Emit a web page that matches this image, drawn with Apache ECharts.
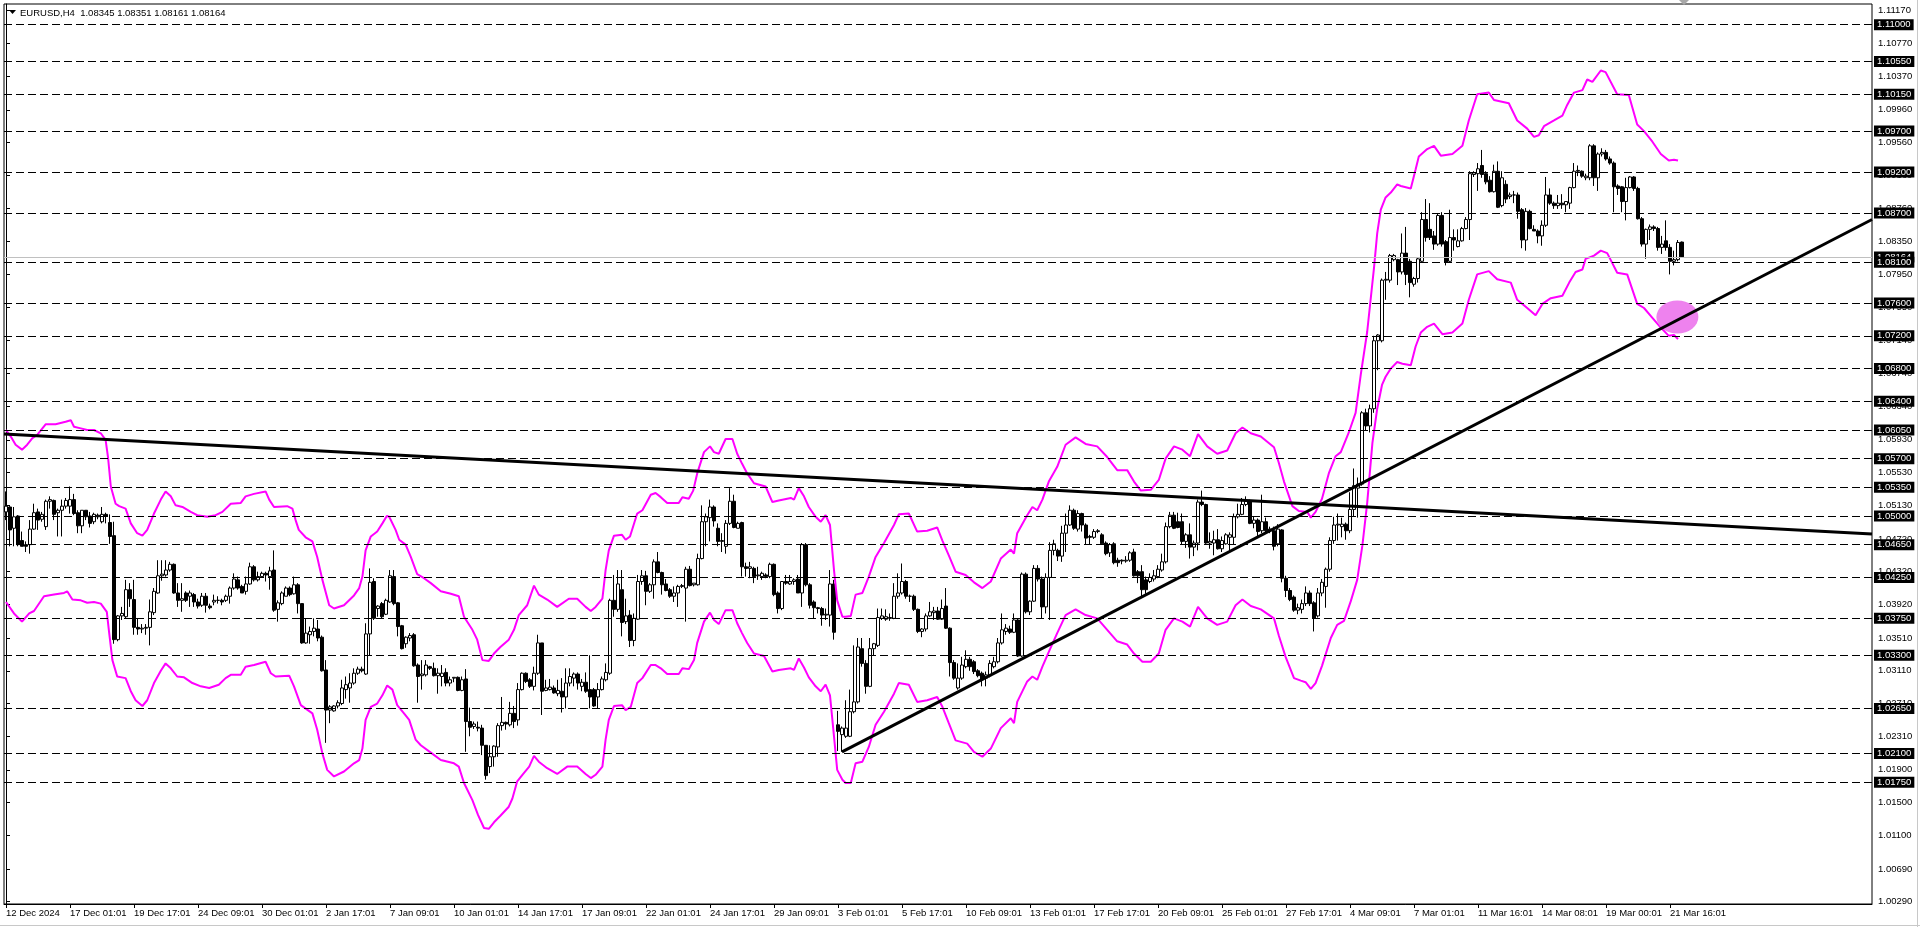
<!DOCTYPE html>
<html><head><meta charset="utf-8">
<script src="https://cdn.jsdelivr.net/npm/echarts@6/dist/echarts.min.js"></script>
<style>html,body{margin:0;padding:0;background:#fff;}#chart{width:1920px;height:927px;}</style>
</head><body><div id="chart"></div>
<script>
const symbolName = 'EURUSD,H4';
const dateLabels = ['12 Dec 2024','17 Dec 01:01','19 Dec 17:01','24 Dec 09:01','30 Dec 01:01','2 Jan 17:01','7 Jan 09:01','10 Jan 01:01','14 Jan 17:01','17 Jan 09:01','22 Jan 01:01','24 Jan 17:01','29 Jan 09:01','3 Feb 01:01','5 Feb 17:01','10 Feb 09:01','13 Feb 01:01','17 Feb 17:01','20 Feb 09:01','25 Feb 01:01','27 Feb 17:01','4 Mar 09:01','7 Mar 01:01','11 Mar 16:01','14 Mar 08:01','19 Mar 00:01','21 Mar 16:01'];
const labelStep = 16;
const priceTicks = [1.11170,1.10770,1.10370,1.09960,1.09560,1.09160,1.08760,1.08350,1.07950,1.07550,1.07140,1.06740,1.06340,1.05930,1.05530,1.05130,1.04720,1.04320,1.03920,1.03510,1.03110,1.02710,1.02310,1.01900,1.01500,1.01100,1.00690,1.00290];
const levelPrices = [1.11000,1.10550,1.10150,1.09700,1.09200,1.08700,1.08100,1.07600,1.07200,1.06800,1.06400,1.06050,1.05700,1.05350,1.05000,1.04650,1.04250,1.03750,1.03300,1.02650,1.02100,1.01750];
const bidPrice = 1.08164;

const opens = [
1.0505,1.0511,1.0485,1.0500,1.0470,1.0465,1.0465,1.0484,1.0505,1.0496,
1.0487,1.0518,1.0519,1.0504,1.0507,1.0512,1.0512,1.0520,1.0504,1.0488,
1.0507,1.0500,1.0493,1.0501,1.0493,1.0502,1.0492,1.0476,1.0349,1.0378,
1.0377,1.0410,1.0398,1.0364,1.0362,1.0363,1.0364,1.0382,1.0406,1.0427,
1.0428,1.0434,1.0441,1.0406,1.0397,1.0406,1.0402,1.0404,1.0395,1.0391,
1.0402,1.0390,1.0395,1.0397,1.0397,1.0397,1.0402,1.0412,1.0422,1.0414,
1.0408,1.0417,1.0438,1.0422,1.0426,1.0430,1.0426,1.0434,1.0386,1.0393,
1.0402,1.0412,1.0405,1.0416,1.0393,1.0345,1.0355,1.0359,1.0362,1.0352,
1.0312,1.0263,1.0262,1.0268,1.0271,1.0288,1.0290,1.0296,1.0308,1.0313,
1.0307,1.0356,1.0420,1.0387,1.0393,1.0380,1.0395,1.0426,1.0394,1.0366,
1.0344,1.0351,1.0355,1.0318,1.0305,1.0306,1.0316,1.0314,1.0305,1.0304,
1.0309,1.0296,1.0302,1.0303,1.0287,1.0301,1.0249,1.0243,1.0242,1.0241,
1.0220,1.0194,1.0206,1.0218,1.0244,1.0248,1.0245,1.0259,1.0251,1.0288,
1.0308,1.0300,1.0292,1.0308,1.0345,1.0287,1.0288,1.0290,1.0283,1.0286,
1.0279,1.0296,1.0302,1.0307,1.0292,1.0297,1.0288,1.0288,1.0279,1.0288,
1.0300,1.0308,1.0397,1.0386,1.0410,1.0371,1.0379,1.0348,1.0374,1.0420,
1.0427,1.0408,1.0416,1.0444,1.0431,1.0417,1.0410,1.0402,1.0406,1.0414,
1.0412,1.0435,1.0416,1.0416,1.0448,1.0493,1.0498,1.0511,1.0485,1.0469,
1.0463,1.0491,1.0518,1.0485,1.0492,1.0438,1.0436,1.0436,1.0427,1.0426,
1.0428,1.0426,1.0441,1.0406,1.0387,1.0420,1.0417,1.0420,1.0423,1.0406,
1.0465,1.0416,1.0395,1.0388,1.0387,1.0379,1.0379,1.0417,1.0245,1.0233,
1.0231,1.0231,1.0261,1.0273,1.0338,1.0320,1.0292,1.0338,1.0342,1.0375,
1.0374,1.0376,1.0375,1.0402,1.0406,1.0420,1.0402,1.0402,1.0386,1.0359,
1.0362,1.0378,1.0382,1.0384,1.0374,1.0390,1.0363,1.0321,1.0290,1.0302,
1.0316,1.0325,1.0322,1.0311,1.0308,1.0302,1.0305,1.0316,1.0322,1.0345,
1.0359,1.0362,1.0358,1.0373,1.0329,1.0429,1.0383,1.0396,1.0436,1.0423,
1.0389,1.0425,1.0458,1.0458,1.0451,1.0479,1.0489,1.0507,1.0484,1.0503,
1.0489,1.0475,1.0474,1.0481,1.0477,1.0467,1.0455,1.0466,1.0446,1.0446,
1.0445,1.0446,1.0456,1.0432,1.0432,1.0422,1.0420,1.0423,1.0426,1.0434,
1.0444,1.0487,1.0501,1.0493,1.0493,1.0469,1.0477,1.0462,1.0467,1.0517,
1.0514,1.0467,1.0467,1.0471,1.0460,1.0466,1.0474,1.0474,1.0499,1.0502,
1.0514,1.0518,1.0491,1.0495,1.0482,1.0493,1.0482,1.0482,1.0466,1.0483,
1.0424,1.0409,1.0401,1.0385,1.0386,1.0393,1.0406,1.0394,1.0378,1.0406,
1.0414,1.0435,1.0470,1.0489,1.0487,1.0490,1.0482,1.0508,1.0534,1.0539,
1.0626,1.0610,1.0631,1.0714,1.0714,1.0788,1.0788,1.0813,1.0813,1.0798,
1.0821,1.0811,1.0783,1.0790,1.0811,1.0862,1.0850,1.0842,1.0832,1.0867,
1.0835,1.0811,1.0840,1.0829,1.0836,1.0851,1.0862,1.0917,1.0918,1.0928,
1.0918,1.0910,1.0896,1.0921,1.0879,1.0905,1.0890,1.0892,1.0892,1.0874,
1.0837,1.0872,1.0850,1.0848,1.0842,1.0855,1.0892,1.0882,1.0879,1.0882,
1.0880,1.0882,1.0901,1.0921,1.0921,1.0913,1.0913,1.0952,1.0913,1.0942,
1.0944,1.0936,1.0931,1.0903,1.0902,1.0884,1.0901,1.0914,1.0900,1.0863,
1.0832,1.0850,1.0853,1.0851,1.0828,1.0836,1.0828,1.0811,1.0813,1.08345];

const highs = [
1.0530,1.0512,1.0511,1.0501,1.0481,1.0469,1.0495,1.0515,1.0509,1.0505,
1.0520,1.0524,1.0520,1.0509,1.0520,1.0522,1.0536,1.0527,1.0507,1.0507,
1.0507,1.0505,1.0504,1.0503,1.0511,1.0504,1.0502,1.0493,1.0379,1.0389,
1.0422,1.0418,1.0422,1.0375,1.0368,1.0368,1.0398,1.0412,1.0446,1.0446,
1.0446,1.0444,1.0442,1.0418,1.0418,1.0408,1.0409,1.0406,1.0399,1.0406,
1.0406,1.0393,1.0404,1.0402,1.0399,1.0404,1.0414,1.0430,1.0426,1.0416,
1.0426,1.0443,1.0440,1.0432,1.0432,1.0432,1.0438,1.0458,1.0397,1.0408,
1.0414,1.0414,1.0426,1.0418,1.0393,1.0375,1.0365,1.0375,1.0373,1.0354,
1.0324,1.0269,1.0269,1.0275,1.0300,1.0304,1.0308,1.0314,1.0316,1.0316,
1.0369,1.0436,1.0424,1.0391,1.0395,1.0399,1.0434,1.0434,1.0395,1.0367,
1.0353,1.0357,1.0357,1.0320,1.0324,1.0324,1.0317,1.0321,1.0314,1.0318,
1.0314,1.0304,1.0303,1.0304,1.0304,1.0313,1.0266,1.0249,1.0249,1.0245,
1.0220,1.0220,1.0220,1.0247,1.0279,1.0249,1.0273,1.0268,1.0296,1.0309,
1.0309,1.0302,1.0316,1.0355,1.0345,1.0300,1.0301,1.0293,1.0300,1.0302,
1.0314,1.0314,1.0309,1.0309,1.0301,1.0309,1.0330,1.0290,1.0296,1.0304,
1.0320,1.0399,1.0428,1.0434,1.0434,1.0399,1.0385,1.0381,1.0428,1.0434,
1.0433,1.0418,1.0447,1.0456,1.0432,1.0423,1.0412,1.0414,1.0416,1.0417,
1.0438,1.0439,1.0418,1.0454,1.0513,1.0503,1.0520,1.0513,1.0491,1.0479,
1.0495,1.0534,1.0526,1.0493,1.0493,1.0443,1.0444,1.0438,1.0438,1.0432,
1.0430,1.0443,1.0442,1.0408,1.0420,1.0428,1.0428,1.0424,1.0428,1.0467,
1.0467,1.0418,1.0397,1.0389,1.0389,1.0387,1.0434,1.0422,1.0262,1.0243,
1.0275,1.0288,1.0342,1.0351,1.0351,1.0324,1.0351,1.0345,1.0387,1.0387,
1.0386,1.0381,1.0418,1.0430,1.0442,1.0422,1.0404,1.0404,1.0387,1.0363,
1.0381,1.0395,1.0389,1.0389,1.0398,1.0412,1.0364,1.0324,1.0320,1.0328,
1.0336,1.0328,1.0324,1.0313,1.0310,1.0310,1.0324,1.0328,1.0351,1.0381,
1.0368,1.0366,1.0381,1.0375,1.0431,1.0431,1.0397,1.0440,1.0440,1.0426,
1.0430,1.0468,1.0471,1.0460,1.0488,1.0503,1.0513,1.0509,1.0507,1.0504,
1.0491,1.0477,1.0484,1.0484,1.0479,1.0469,1.0467,1.0468,1.0449,1.0447,
1.0451,1.0457,1.0460,1.0434,1.0440,1.0426,1.0430,1.0434,1.0440,1.0454,
1.0492,1.0505,1.0505,1.0504,1.0503,1.0479,1.0491,1.0470,1.0520,1.0531,
1.0515,1.0480,1.0482,1.0484,1.0475,1.0479,1.0480,1.0503,1.0515,1.0522,
1.0524,1.0520,1.0499,1.0497,1.0526,1.0498,1.0487,1.0487,1.0490,1.0484,
1.0427,1.0412,1.0403,1.0393,1.0398,1.0414,1.0409,1.0396,1.0412,1.0423,
1.0437,1.0474,1.0499,1.0503,1.0498,1.0492,1.0529,1.0558,1.0547,1.0628,
1.0631,1.0636,1.0720,1.0722,1.0790,1.0798,1.0820,1.0820,1.0814,1.0845,
1.0853,1.0814,1.0792,1.0816,1.0871,1.0887,1.0882,1.0848,1.0870,1.0871,
1.0837,1.0874,1.0850,1.0850,1.0853,1.0865,1.0921,1.0921,1.0931,1.0947,
1.0921,1.0915,1.0929,1.0933,1.0921,1.0910,1.0895,1.0897,1.0895,1.0876,
1.0876,1.0874,1.0855,1.0850,1.0861,1.0914,1.0900,1.0884,1.0892,1.0893,
1.0884,1.0902,1.0931,1.0928,1.0922,1.0918,1.0954,1.0954,1.0944,1.0949,
1.0947,1.0939,1.0933,1.0905,1.0903,1.0913,1.0915,1.0915,1.0902,1.0865,
1.0851,1.0856,1.0855,1.0853,1.0842,1.0861,1.0832,1.0824,1.0837,1.08351];

const lows = [
1.0495,1.0463,1.0463,1.0463,1.0463,1.0456,1.0454,1.0483,1.0483,1.0493,
1.0483,1.0509,1.0495,1.0475,1.0475,1.0509,1.0503,1.0501,1.0479,1.0479,
1.0495,1.0486,1.0490,1.0496,1.0491,1.0491,1.0466,1.0344,1.0347,1.0373,
1.0375,1.0389,1.0355,1.0355,1.0357,1.0355,1.0342,1.0379,1.0405,1.0421,
1.0426,1.0432,1.0405,1.0389,1.0383,1.0395,1.0389,1.0389,1.0387,1.0389,
1.0382,1.0386,1.0391,1.0393,1.0391,1.0395,1.0393,1.0410,1.0410,1.0406,
1.0404,1.0416,1.0420,1.0420,1.0426,1.0420,1.0410,1.0383,1.0371,1.0391,
1.0402,1.0402,1.0404,1.0381,1.0344,1.0344,1.0344,1.0353,1.0347,1.0310,
1.0223,1.0247,1.0261,1.0265,1.0269,1.0277,1.0272,1.0294,1.0306,1.0309,
1.0306,1.0329,1.0373,1.0377,1.0375,1.0379,1.0394,1.0391,1.0353,1.0337,
1.0339,1.0347,1.0316,1.0272,1.0288,1.0304,1.0312,1.0304,1.0283,1.0292,
1.0292,1.0292,1.0297,1.0286,1.0286,1.0212,1.0231,1.0240,1.0237,1.0208,
1.0178,1.0186,1.0194,1.0206,1.0238,1.0239,1.0243,1.0241,1.0244,1.0287,
1.0296,1.0290,1.0287,1.0306,1.0257,1.0286,1.0287,1.0283,1.0280,1.0260,
1.0265,1.0292,1.0292,1.0288,1.0286,1.0284,1.0265,1.0267,1.0265,1.0287,
1.0298,1.0306,1.0377,1.0383,1.0353,1.0368,1.0340,1.0341,1.0373,1.0416,
1.0391,1.0406,1.0399,1.0430,1.0404,1.0408,1.0400,1.0395,1.0389,1.0412,
1.0371,1.0414,1.0414,1.0415,1.0447,1.0463,1.0469,1.0487,1.0463,1.0456,
1.0454,1.0489,1.0485,1.0485,1.0426,1.0426,1.0424,1.0418,1.0422,1.0422,
1.0424,1.0424,1.0402,1.0381,1.0385,1.0416,1.0416,1.0416,1.0406,1.0389,
1.0414,1.0387,1.0375,1.0381,1.0366,1.0373,1.0365,1.0349,1.0213,1.0212,
1.0229,1.0230,1.0259,1.0271,1.0316,1.0283,1.0291,1.0330,1.0340,1.0373,
1.0372,1.0372,1.0374,1.0399,1.0404,1.0399,1.0395,1.0384,1.0357,1.0352,
1.0359,1.0377,1.0373,1.0373,1.0373,1.0362,1.0304,1.0300,1.0288,1.0300,
1.0314,1.0311,1.0307,1.0303,1.0292,1.0292,1.0303,1.0314,1.0320,1.0343,
1.0355,1.0356,1.0357,1.0328,1.0328,1.0381,1.0379,1.0395,1.0420,1.0375,
1.0381,1.0373,1.0452,1.0445,1.0444,1.0456,1.0488,1.0483,1.0481,1.0481,
1.0465,1.0465,1.0472,1.0479,1.0465,1.0452,1.0450,1.0441,1.0438,1.0441,
1.0443,1.0444,1.0426,1.0418,1.0401,1.0405,1.0418,1.0420,1.0424,1.0432,
1.0442,1.0485,1.0484,1.0485,1.0465,1.0461,1.0448,1.0451,1.0458,1.0512,
1.0466,1.0460,1.0452,1.0459,1.0456,1.0465,1.0456,1.0465,1.0497,1.0501,
1.0512,1.0490,1.0485,1.0473,1.0479,1.0479,1.0479,1.0458,1.0463,1.0419,
1.0401,1.0396,1.0383,1.0380,1.0381,1.0390,1.0390,1.0359,1.0376,1.0402,
1.0388,1.0432,1.0466,1.0470,1.0474,1.0471,1.0479,1.0500,1.0498,1.0537,
1.0605,1.0602,1.0626,1.0678,1.0712,1.0764,1.0785,1.0811,1.0782,1.0795,
1.0782,1.0767,1.0780,1.0785,1.0810,1.0835,1.0837,1.0825,1.0830,1.0829,
1.0806,1.0810,1.0824,1.0828,1.0835,1.0850,1.0837,1.0914,1.0897,1.0913,
1.0905,1.0895,1.0895,1.0876,1.0877,1.0882,1.0887,1.0882,1.0863,1.0827,
1.0824,1.0850,1.0848,1.0833,1.0830,1.0853,1.0880,1.0875,1.0875,1.0875,
1.0871,1.0875,1.0900,1.0915,1.0913,1.0910,1.0910,1.0903,1.0897,1.0939,
1.0934,1.0929,1.0871,1.0892,1.0871,1.0861,1.0900,1.0897,1.0862,1.0829,
1.0814,1.0837,1.0848,1.0824,1.0820,1.0824,1.0795,1.0806,1.0811,1.08161];

const closes = [
1.0512,1.0483,1.0499,1.0465,1.0463,1.0463,1.0484,1.0504,1.0495,1.0502,
1.0518,1.0520,1.0502,1.0507,1.0512,1.0519,1.0520,1.0503,1.0488,1.0507,
1.0499,1.0491,1.0502,1.0499,1.0502,1.0500,1.0475,1.0349,1.0378,1.0381,
1.0410,1.0399,1.0364,1.0362,1.0363,1.0364,1.0383,1.0408,1.0427,1.0429,
1.0434,1.0441,1.0406,1.0397,1.0399,1.0397,1.0406,1.0395,1.0390,1.0402,
1.0391,1.0388,1.0397,1.0397,1.0395,1.0402,1.0412,1.0423,1.0412,1.0406,
1.0417,1.0438,1.0422,1.0426,1.0430,1.0428,1.0433,1.0385,1.0394,1.0406,
1.0412,1.0404,1.0416,1.0393,1.0345,1.0357,1.0359,1.0363,1.0351,1.0311,
1.0263,1.0267,1.0268,1.0272,1.0290,1.0294,1.0296,1.0308,1.0313,1.0311,
1.0356,1.0419,1.0375,1.0390,1.0377,1.0397,1.0427,1.0393,1.0365,1.0338,
1.0352,1.0354,1.0317,1.0304,1.0307,1.0318,1.0314,1.0305,1.0308,1.0308,
1.0296,1.0300,1.0303,1.0287,1.0300,1.0249,1.0242,1.0246,1.0241,1.0220,
1.0183,1.0206,1.0219,1.0244,1.0248,1.0246,1.0259,1.0249,1.0288,1.0308,
1.0298,1.0292,1.0308,1.0345,1.0286,1.0290,1.0291,1.0284,1.0287,1.0279,
1.0296,1.0304,1.0307,1.0296,1.0297,1.0286,1.0279,1.0268,1.0288,1.0301,
1.0309,1.0397,1.0386,1.0417,1.0370,1.0378,1.0348,1.0375,1.0420,1.0427,
1.0408,1.0416,1.0444,1.0431,1.0416,1.0409,1.0402,1.0406,1.0414,1.0415,
1.0435,1.0415,1.0418,1.0448,1.0493,1.0499,1.0511,1.0494,1.0469,1.0470,
1.0491,1.0518,1.0486,1.0491,1.0438,1.0436,1.0438,1.0426,1.0428,1.0430,
1.0426,1.0441,1.0404,1.0387,1.0420,1.0418,1.0420,1.0422,1.0406,1.0465,
1.0416,1.0391,1.0388,1.0387,1.0379,1.0380,1.0417,1.0358,1.0237,1.0241,
1.0241,1.0261,1.0273,1.0340,1.0320,1.0292,1.0338,1.0344,1.0376,1.0378,
1.0377,1.0375,1.0402,1.0406,1.0420,1.0402,1.0402,1.0386,1.0359,1.0362,
1.0378,1.0383,1.0384,1.0374,1.0387,1.0363,1.0321,1.0302,1.0302,1.0318,
1.0325,1.0316,1.0310,1.0305,1.0300,1.0306,1.0320,1.0322,1.0345,1.0361,
1.0363,1.0358,1.0373,1.0329,1.0429,1.0383,1.0396,1.0436,1.0423,1.0389,
1.0425,1.0458,1.0466,1.0451,1.0479,1.0489,1.0507,1.0485,1.0503,1.0489,
1.0473,1.0474,1.0481,1.0482,1.0466,1.0454,1.0465,1.0443,1.0443,1.0445,
1.0446,1.0455,1.0427,1.0427,1.0410,1.0410,1.0425,1.0427,1.0435,1.0444,
1.0487,1.0501,1.0485,1.0486,1.0469,1.0477,1.0462,1.0467,1.0517,1.0514,
1.0467,1.0469,1.0471,1.0460,1.0470,1.0477,1.0477,1.0499,1.0502,1.0514,
1.0518,1.0491,1.0495,1.0481,1.0493,1.0482,1.0484,1.0463,1.0484,1.0424,
1.0409,1.0398,1.0385,1.0388,1.0393,1.0406,1.0393,1.0375,1.0406,1.0419,
1.0435,1.0470,1.0489,1.0490,1.0490,1.0482,1.0508,1.0537,1.0539,1.0626,
1.0610,1.0631,1.0714,1.0721,1.0788,1.0789,1.0818,1.0818,1.0798,1.0821,
1.0795,1.0785,1.0790,1.0814,1.0862,1.0840,1.0840,1.0832,1.0867,1.0832,
1.0810,1.0840,1.0837,1.0836,1.0851,1.0862,1.0918,1.0919,1.0924,1.0917,
1.0908,1.0896,1.0921,1.0877,1.0913,1.0887,1.0892,1.0892,1.0872,1.0837,
1.0872,1.0851,1.0848,1.0842,1.0855,1.0892,1.0882,1.0879,1.0882,1.0880,
1.0884,1.0901,1.0921,1.0922,1.0915,1.0915,1.0952,1.0913,1.0942,1.0944,
1.0936,1.0931,1.0902,1.0900,1.0884,1.0901,1.0914,1.0900,1.0863,1.0832,
1.0850,1.0853,1.0851,1.0828,1.0832,1.0828,1.0811,1.0813,1.0834,1.08164];

// Envelope bands: [bar position, price]
const upperBand = [[0,1.0605],[1.2,1.0597],[2.4,1.0587],[4,1.0581],[5.3,1.0587],[6.6,1.0595],[7.8,1.0599],[9.9,1.0612],[12.4,1.0612],[14.9,1.0615],[16.2,1.0617],[17,1.0609],[18.7,1.0607],[20.3,1.0605],[22,1.0605],[23.7,1.0601],[24.9,1.0593],[25.5,1.0572],[26.2,1.0536],[27.4,1.0515],[28.3,1.0512],[29.9,1.0509],[31.2,1.0491],[32.8,1.0479],[34.1,1.0476],[35.3,1.0483],[37,1.0503],[38.7,1.0520],[39.9,1.0530],[41.2,1.0524],[42.4,1.0513],[44.1,1.0511],[46.2,1.0505],[47.8,1.0501],[50.3,1.0499],[52.4,1.0501],[54.1,1.0505],[56.2,1.0515],[58.7,1.0516],[59.9,1.0524],[62,1.0527],[64.9,1.0530],[65.8,1.0520],[67,1.0511],[70.3,1.0512],[71.6,1.0509],[72.4,1.0495],[73.2,1.0483],[74.9,1.0474],[76.6,1.0469],[77.8,1.0450],[79.1,1.0422],[80.8,1.0391],[82,1.0387],[84.5,1.0391],[87,1.0403],[88.3,1.0412],[89.1,1.0426],[89.9,1.0458],[91.2,1.0475],[92.8,1.0481],[94.1,1.0491],[95.2,1.0500],[95.8,1.0499],[97.4,1.0483],[98.3,1.0471],[99.9,1.0465],[101.2,1.0450],[102.8,1.0429],[104.5,1.0424],[106.2,1.0418],[108.7,1.0408],[111.2,1.0405],[113.2,1.0402],[114.5,1.0377],[116.6,1.0361],[117.8,1.0349],[119.1,1.0324],[120.7,1.0323],[122,1.0332],[123.6,1.0340],[125.7,1.0349],[127,1.0361],[128.2,1.0379],[130.3,1.0391],[132,1.0415],[133.2,1.0404],[135.3,1.0398],[137.8,1.0389],[140.7,1.0399],[142.8,1.0399],[144.9,1.0389],[146.2,1.0384],[147.4,1.0389],[149.1,1.0399],[149.9,1.0434],[150.7,1.0458],[152,1.0476],[154,1.0477],[154.9,1.0471],[156,1.0475],[157.8,1.0503],[159.1,1.0507],[161.2,1.0526],[162.4,1.0528],[163.7,1.0523],[165.3,1.0516],[168.2,1.0516],[169.1,1.0523],[170.7,1.0521],[171.8,1.0531],[172.8,1.0552],[174.5,1.0578],[176,1.0585],[177,1.0578],[178.2,1.0576],[179.9,1.0594],[181.6,1.0594],[182.8,1.0576],[184,1.0564],[185.3,1.0552],[187,1.0540],[189.9,1.0536],[191.6,1.0517],[193.2,1.0519],[196.2,1.0522],[197,1.0520],[198.2,1.0534],[199.5,1.0524],[200.7,1.0511],[202.4,1.0499],[203.7,1.0493],[204.9,1.0501],[206,1.0489],[207,1.0434],[207.8,1.0397],[209.1,1.0377],[209.9,1.0377],[211.2,1.0378],[212.4,1.0404],[214.1,1.0406],[215.7,1.0426],[217.4,1.0450],[219.5,1.0467],[222,1.0489],[223.2,1.0502],[225.7,1.0503],[227.8,1.0481],[230.3,1.0482],[232.8,1.0486],[234.1,1.0470],[235.7,1.0452],[237.4,1.0432],[239.9,1.0428],[242,1.0419],[244.1,1.0412],[246.2,1.0420],[248.7,1.0448],[251.2,1.0459],[252,1.0454],[252.8,1.0479],[255.3,1.0501],[256.6,1.0511],[257.8,1.0507],[259.1,1.0520],[260.7,1.0542],[262.8,1.0560],[264.9,1.0587],[267.4,1.0596],[269.9,1.0588],[272.8,1.0585],[275.3,1.0572],[277.8,1.0556],[280.3,1.0556],[282,1.0542],[283.7,1.0531],[286.2,1.0532],[288.2,1.0544],[289.9,1.0570],[292,1.0585],[294.1,1.0581],[296,1.0573],[298,1.0600],[300.3,1.0585],[302.8,1.0576],[305.3,1.0580],[307.4,1.0601],[309.1,1.0608],[311.2,1.0601],[313.7,1.0597],[317,1.0584],[318.2,1.0565],[319.5,1.0542],[321.6,1.0512],[323.2,1.0506],[325.3,1.0505],[326.2,1.0498],[327.4,1.0505],[329,1.0521],[330.7,1.0552],[332.4,1.0573],[333.7,1.0578],[335.7,1.0602],[337.4,1.0626],[338.7,1.0673],[340.3,1.0725],[342,1.0803],[342.8,1.0845],[343.7,1.0874],[344.9,1.0889],[346.2,1.0895],[347.8,1.0905],[348.7,1.0903],[351.2,1.0900],[352.4,1.0923],[353.2,1.0939],[355.3,1.0948],[357,1.0952],[358.7,1.0940],[361.6,1.0942],[364.1,1.0952],[365.7,1.0983],[367.8,1.1015],[370.7,1.1017],[372,1.1008],[375.7,1.1004],[377.8,1.0983],[380.3,1.0973],[382,1.0963],[383.2,1.0965],[384.5,1.0976],[387,1.0983],[389.1,1.0989],[390.3,1.1002],[392,1.1017],[394.1,1.1020],[395.3,1.1033],[396.6,1.1030],[398.7,1.1044],[399.9,1.1042],[402.8,1.1015],[405.7,1.1014],[407.8,1.0978],[409.5,1.0970],[411.6,1.0957],[413.7,1.0942],[415.7,1.0934],[417,1.0935],[418,1.0934]];

const lowerBand = [[0,1.0395],[2,1.0381],[4,1.0371],[5.8,1.0381],[7,1.0384],[9.5,1.0402],[12,1.0404],[14.5,1.0406],[15.3,1.0408],[16.6,1.0398],[18.7,1.0397],[20.3,1.0394],[22,1.0395],[23.7,1.0393],[25.2,1.0383],[25.8,1.0357],[26.6,1.0324],[27.8,1.0304],[29.9,1.0302],[31.2,1.0286],[32.4,1.0275],[34.1,1.0268],[35.3,1.0275],[37,1.0296],[38.7,1.0311],[39.9,1.0320],[41.2,1.0314],[42.8,1.0304],[44.5,1.0303],[46.6,1.0296],[48.7,1.0292],[50.8,1.0290],[53.2,1.0294],[54.9,1.0302],[56.2,1.0306],[58.7,1.0306],[59.9,1.0316],[62,1.0318],[64.9,1.0322],[66.2,1.0308],[67.4,1.0304],[70.8,1.0305],[72,1.0292],[73.7,1.0269],[76.6,1.0259],[77.8,1.0239],[79.1,1.0210],[80.3,1.0190],[82,1.0182],[84.5,1.0188],[87,1.0198],[88.3,1.0202],[89.1,1.0216],[89.9,1.0251],[91.2,1.0267],[92.8,1.0271],[94.1,1.0281],[95.3,1.0293],[96.6,1.0288],[97.8,1.0269],[99.5,1.0259],[100.8,1.0251],[102.4,1.0227],[103.7,1.0220],[106.2,1.0211],[108.7,1.0202],[112,1.0198],[113.2,1.0194],[114.5,1.0174],[116.6,1.0153],[118,1.0135],[119.5,1.0119],[120.7,1.0118],[122,1.0126],[123.6,1.0134],[125.7,1.0145],[126.6,1.0155],[127.8,1.0176],[129.1,1.0184],[130.8,1.0194],[132,1.0207],[133.2,1.0200],[135.3,1.0192],[137.8,1.0185],[140.3,1.0194],[142.8,1.0194],[144.9,1.0185],[146.2,1.0180],[147.4,1.0184],[149.1,1.0194],[149.9,1.0227],[150.7,1.0251],[152,1.0268],[154,1.0269],[154.9,1.0263],[156.2,1.0267],[157.8,1.0296],[159.1,1.0302],[161.2,1.0318],[162.4,1.0318],[163.7,1.0314],[165.3,1.0307],[168.2,1.0307],[169.1,1.0314],[170.7,1.0313],[172,1.0324],[172.8,1.0345],[174.5,1.0371],[176,1.0382],[177,1.0373],[178.2,1.0368],[179.9,1.0385],[181.6,1.0385],[182.8,1.0369],[184,1.0357],[185.3,1.0345],[187,1.0332],[189.5,1.0329],[191.6,1.0310],[193.2,1.0312],[196.2,1.0314],[197,1.0312],[198.2,1.0326],[199.5,1.0315],[200.7,1.0303],[202.4,1.0292],[203.7,1.0286],[204.9,1.0294],[206,1.0281],[207,1.0231],[207.8,1.0190],[209.1,1.0178],[209.9,1.0174],[211.2,1.0174],[212.4,1.0198],[214.1,1.0200],[215.7,1.0218],[217.4,1.0245],[219.5,1.0261],[222,1.0283],[223.2,1.0296],[225.7,1.0294],[227.8,1.0273],[230.3,1.0275],[232.8,1.0279],[234.1,1.0267],[235.7,1.0247],[237.4,1.0226],[240.3,1.0222],[242,1.0212],[244.1,1.0206],[246.2,1.0216],[248.7,1.0241],[251.2,1.0253],[252,1.0247],[252.8,1.0273],[255.3,1.0298],[256.6,1.0304],[257.8,1.0300],[259.1,1.0316],[260.7,1.0334],[262.8,1.0357],[264.9,1.0379],[267.4,1.0386],[269.9,1.0379],[272.8,1.0375],[275.3,1.0361],[277.8,1.0347],[280.3,1.0343],[282,1.0332],[284.1,1.0322],[286.2,1.0322],[288.2,1.0332],[289.9,1.0361],[292,1.0375],[294.1,1.0371],[296,1.0365],[298,1.0389],[300.3,1.0375],[302.8,1.0367],[305.3,1.0371],[307.4,1.0391],[309.1,1.0398],[311.2,1.0390],[313.7,1.0386],[317,1.0375],[318.2,1.0354],[319.9,1.0328],[322,1.0302],[323.7,1.0299],[324.9,1.0297],[326.2,1.0289],[327.4,1.0296],[329,1.0317],[331.2,1.0351],[332.8,1.0367],[334.5,1.0372],[336.2,1.0396],[337.8,1.0422],[339.1,1.0464],[340.3,1.0516],[341.6,1.0589],[342.8,1.0631],[344,1.0660],[344.9,1.0670],[346.2,1.0680],[347.8,1.0688],[349.1,1.0686],[351.2,1.0684],[352.4,1.0707],[353.7,1.0724],[355.3,1.0731],[357,1.0735],[359.1,1.0722],[361.6,1.0724],[364.1,1.0735],[365.7,1.0764],[367.8,1.0795],[370.7,1.0799],[372.8,1.0789],[376.2,1.0785],[377.8,1.0764],[380.3,1.0754],[382.4,1.0745],[384.1,1.0759],[386.2,1.0766],[389.1,1.0769],[390.8,1.0785],[392.4,1.0798],[394.1,1.0801],[394.9,1.0814],[397,1.0818],[398.7,1.0824],[400.3,1.0821],[402.8,1.0797],[405.3,1.0795],[407.8,1.0759],[409.5,1.0754],[411.6,1.0742],[413.7,1.0730],[415.7,1.0720],[417,1.0721],[418,1.0716]];

const trendDown = [[-0.5,1.0600],[466.5,1.0478]];
const trendUp = [[209,1.0212],[466.5,1.0862]];
const ellipseCenter = [[417.85,1.0743]];

const slotCount = 467;
const yMin = 1.00262, yMax = 1.11252;
const FONT = 'Liberation Sans, Arial, sans-serif';

const n = opens.length;
const cats = Array.from({length: slotCount}, (_, i) => String(i));
const candleData = cats.map((_, i) => i < n ? [opens[i], closes[i], lows[i], highs[i]] : '-');
const isLabelIdx = i => i % labelStep === 0 && (i / labelStep) < dateLabels.length;
const headerText = symbolName + '  ' + [opens[n-1], highs[n-1], lows[n-1], closes[n-1]].map(v => v.toFixed(5)).join(' ');
const levelDash = [8, 4];

const boxLabel = {show: true, position: 'end', distance: 2, formatter: p => Number(p.value).toFixed(5), color: '#fff', backgroundColor: '#000',
  padding: [1, 3, 0, 3], fontFamily: FONT, fontSize: 9.5};

const chart = echarts.init(document.getElementById('chart'), null, {renderer: 'canvas'});
chart.setOption({
  animation: false,
  backgroundColor: '#ffffff',
  title: {text: headerText, left: 20, top: 8, padding: 0,
    textStyle: {fontFamily: FONT, fontSize: 9.5, fontWeight: 'normal', color: '#000'}},
  grid: {left: 4, right: 48, top: 4, bottom: 23, show: true, borderColor: '#000', borderWidth: 1, backgroundColor: '#fff'},
  xAxis: [
    {type: 'category', data: cats, boundaryGap: true,
     axisLine: {show: true, lineStyle: {color: '#000', width: 1}},
     axisTick: {show: true, alignWithLabel: true, interval: (i) => isLabelIdx(i), length: 4, lineStyle: {color: '#000'}},
     axisLabel: {interval: (i) => isLabelIdx(i), formatter: (v, i) => dateLabels[i / labelStep], align: 'left', margin: 4,
       fontFamily: FONT, fontSize: 9.5, color: '#000'},
     splitLine: {show: false}},
    {type: 'value', min: -0.5, max: slotCount - 0.5, show: false}
  ],
  yAxis: {type: 'value', position: 'right', min: yMin, max: yMax,
    splitLine: {show: false},
    axisLine: {show: true, lineStyle: {color: '#000'}},
    axisTick: {show: true, customValues: priceTicks, length: 4, lineStyle: {color: '#000'}},
    axisLabel: {customValues: priceTicks, formatter: v => v.toFixed(5), margin: 6, fontFamily: FONT, fontSize: 9.5, color: '#000'}},
  graphic: [
    {type: 'polygon', shape: {points: [[9, 10], [16, 10], [12.5, 14]]}, style: {fill: '#000'}},
    {type: 'polygon', shape: {points: [[1679, 0], [1689, 0], [1684, 5]]}, style: {fill: '#a8a8a8'}},
    {type: 'line', shape: {x1: 0, y1: 925.5, x2: 1920, y2: 925.5}, style: {stroke: '#c8c8c8', lineWidth: 1}},
    {type: 'line', shape: {x1: 1917.5, y1: 0, x2: 1917.5, y2: 927}, style: {stroke: '#c8c8c8', lineWidth: 1}}
  ],
  series: [
    {name: 'bid', type: 'line', xAxisIndex: 1, data: [], symbol: 'none', z: 1, silent: true,
     markLine: {symbol: ['none', 'none'], silent: true, animation: false, precision: 5,
       lineStyle: {color: '#c0c0c0', width: 1, type: 'solid'},
       label: boxLabel,
       data: [{yAxis: bidPrice}]}},
    {name: 'levels', type: 'line', xAxisIndex: 1, data: [], symbol: 'none', z: 1, silent: true,
     markLine: {symbol: ['none', 'none'], silent: true, animation: false, precision: 5,
       lineStyle: {color: '#000', width: 1, type: levelDash},
       label: boxLabel,
       data: levelPrices.map(v => ({yAxis: v}))}},
    {name: 'EURUSD', type: 'candlestick', data: candleData, barWidth: 3, z: 3,
     itemStyle: {color: '#ffffff', color0: '#000000', borderColor: '#000000', borderColor0: '#000000', borderWidth: 1}},
    {name: 'upper', type: 'line', xAxisIndex: 1, data: upperBand, symbol: 'none', z: 4,
     lineStyle: {color: '#ff00ff', width: 2}},
    {name: 'lower', type: 'line', xAxisIndex: 1, data: lowerBand, symbol: 'none', z: 4,
     lineStyle: {color: '#ff00ff', width: 2}},
    {name: 'ellipse', type: 'scatter', xAxisIndex: 1, data: ellipseCenter, symbol: 'circle', symbolSize: [42, 33], z: 5,
     itemStyle: {color: '#ee82ee', opacity: 1}},
    {name: 'trendDown', type: 'line', xAxisIndex: 1, data: trendDown, symbol: 'none', z: 6,
     lineStyle: {color: '#000', width: 3}},
    {name: 'trendUp', type: 'line', xAxisIndex: 1, data: trendUp, symbol: 'none', z: 6,
     lineStyle: {color: '#000', width: 3}}
  ]
});
</script>
</body></html>
